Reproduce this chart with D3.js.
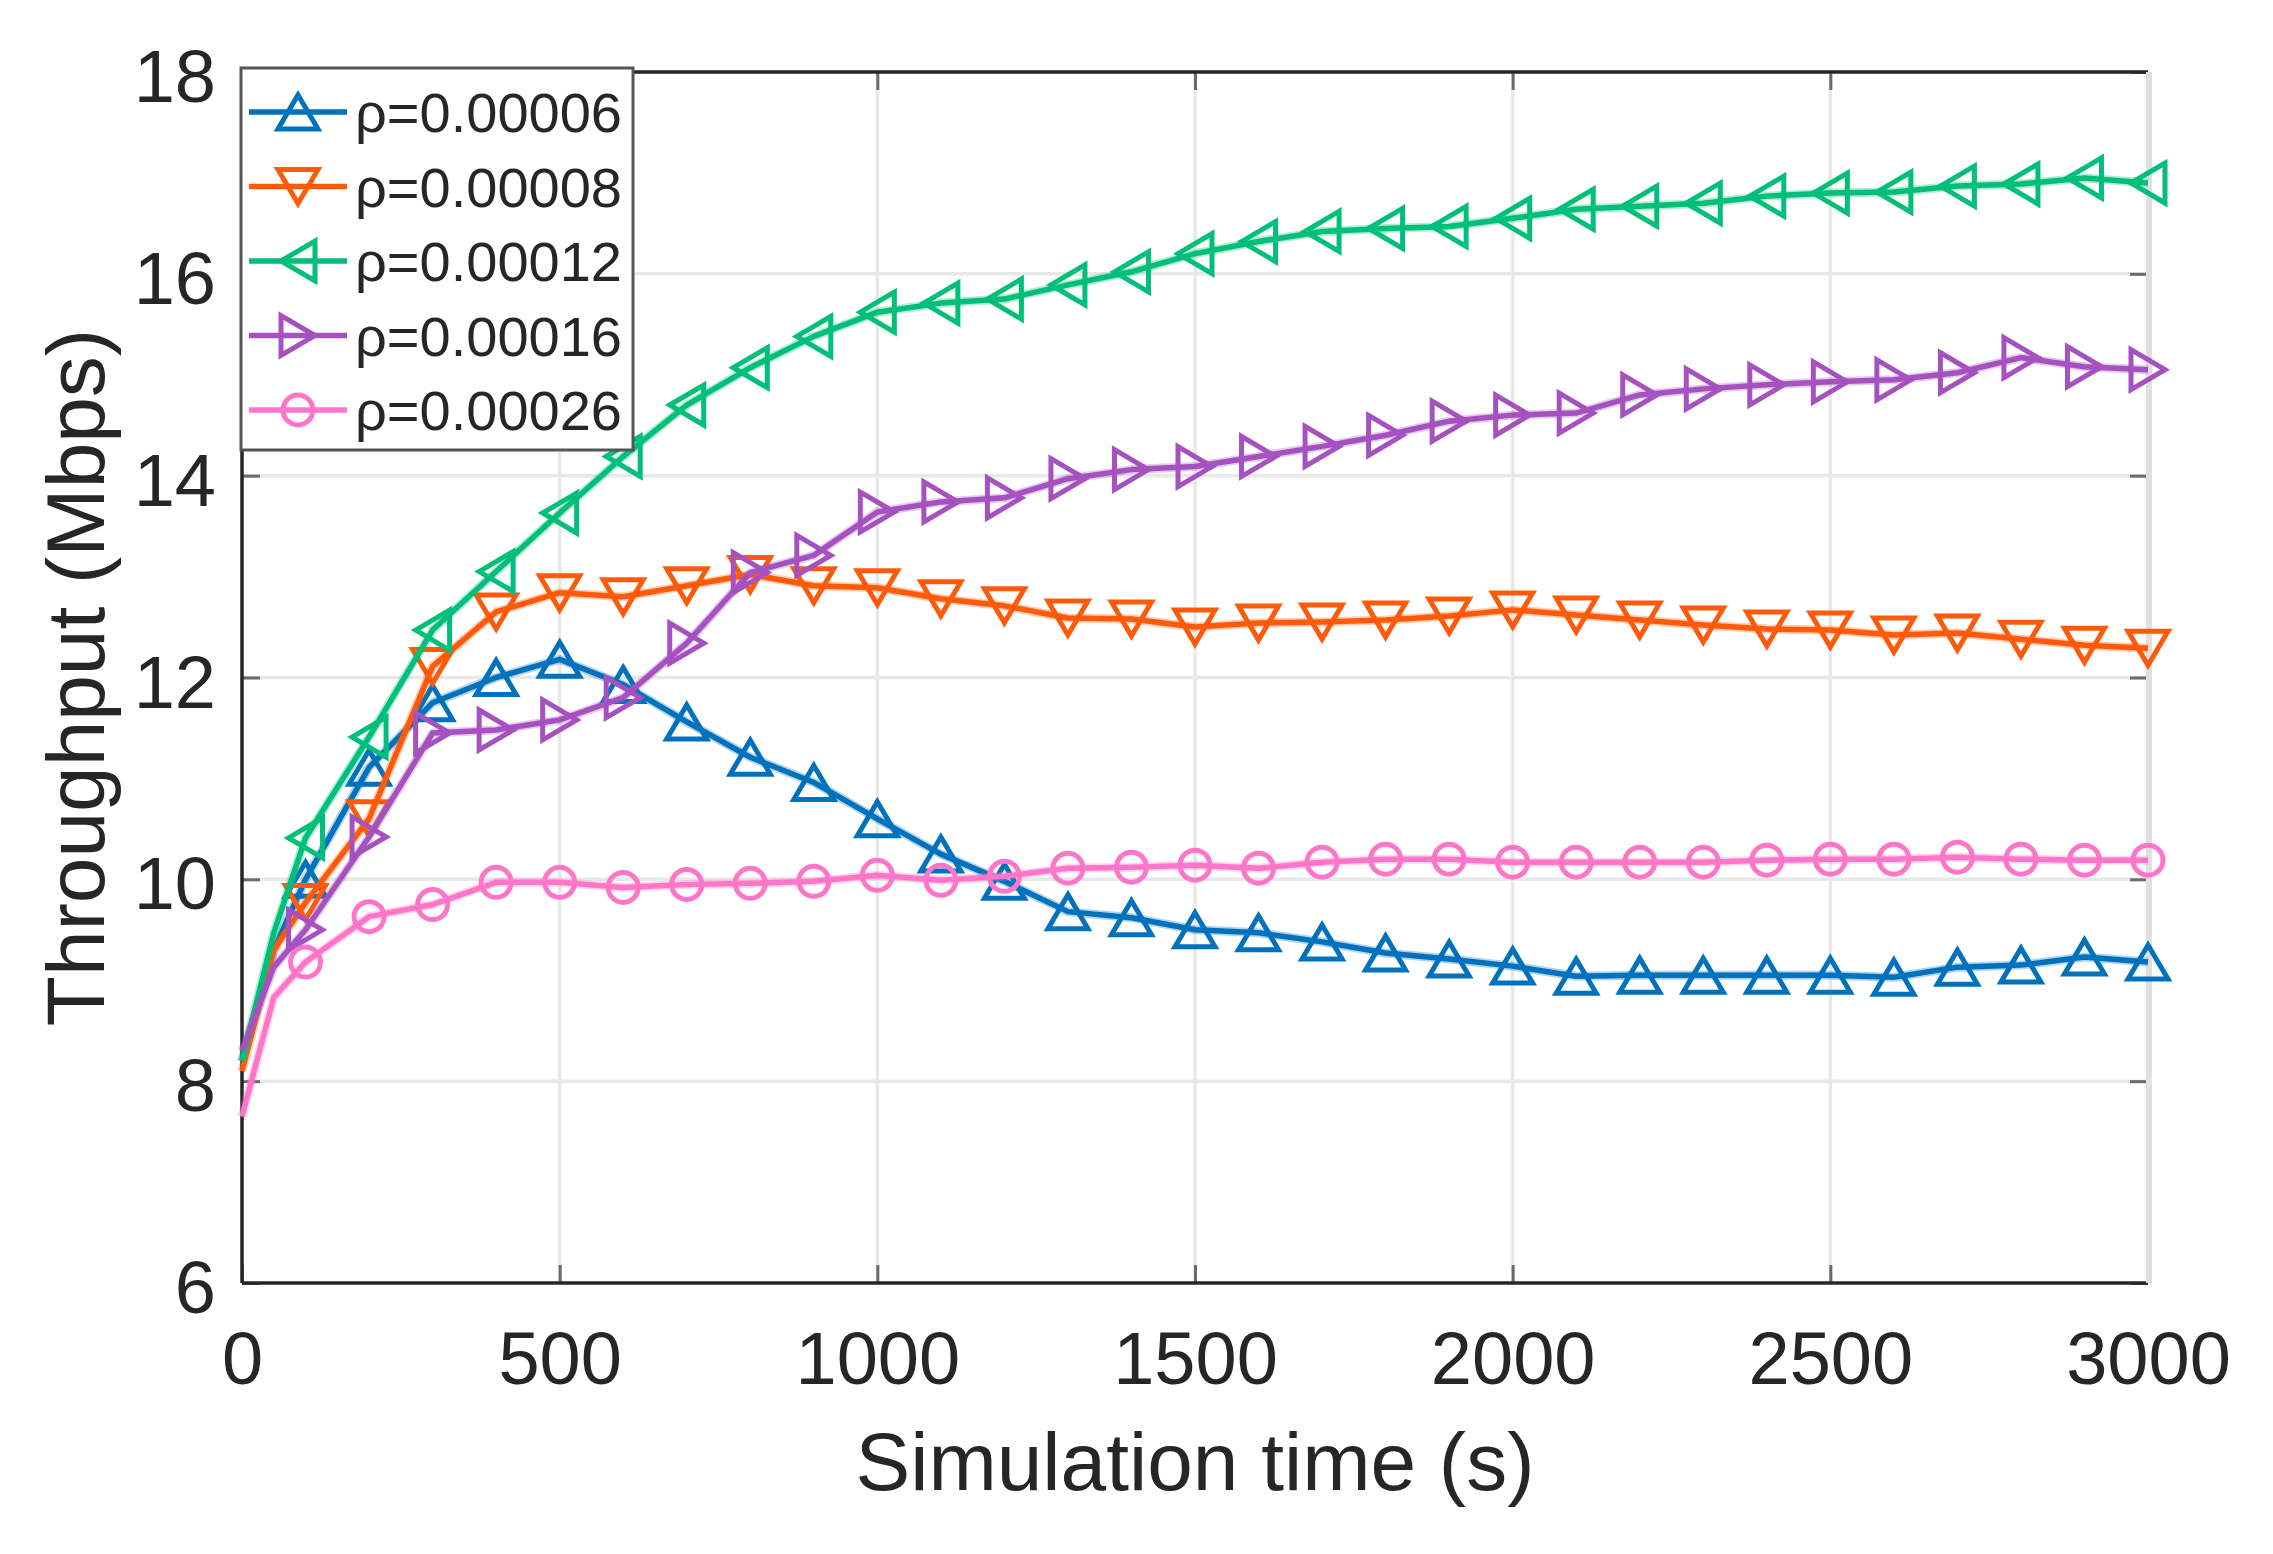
<!DOCTYPE html>
<html lang="en">
<head>
<meta charset="UTF-8">
<title>Throughput vs simulation time</title>
<script src="https://d3js.org/d3.v7.min.js"></script>
<style>
  body { margin: 0; background: #fff; }
  svg text { font-family: "Liberation Sans", Arial, sans-serif; fill: #262626; }
</style>
</head>
<body>
<div id="chart"></div>
<script>
// simulation time (s)
const time = [0, 50, 100, 200, 300, 400, 500, 600, 700, 800, 900, 1000, 1100, 1200, 1300, 1400,
  1500, 1600, 1700, 1800, 1900, 2000, 2100, 2200, 2300, 2400, 2500, 2600, 2700, 2800, 2900, 3000];

// throughput (Mbps) per rho
const rho00006 = [8.2, 9.3, 10.0, 11.11, 11.75, 12.0, 12.18, 11.93, 11.56, 11.21, 10.96, 10.6, 10.25, 9.98, 9.68, 9.62,
  9.5, 9.47, 9.38, 9.27, 9.21, 9.14, 9.04, 9.05, 9.05, 9.05, 9.05, 9.03, 9.13, 9.15, 9.23, 9.18];
const rho00008 = [8.1, 9.3, 9.77, 10.6, 12.11, 12.65, 12.84, 12.8, 12.91, 13.02, 12.91, 12.89, 12.78, 12.71, 12.59, 12.58,
  12.5, 12.54, 12.55, 12.57, 12.61, 12.67, 12.62, 12.57, 12.52, 12.48, 12.47, 12.42, 12.44, 12.38, 12.32, 12.29];
const rho00012 = [8.2, 9.47, 10.41, 11.41, 12.47, 13.05, 13.63, 14.19, 14.7, 15.07, 15.38, 15.62, 15.71, 15.75, 15.89, 16.02,
  16.2, 16.32, 16.42, 16.45, 16.47, 16.55, 16.64, 16.67, 16.7, 16.77, 16.8, 16.81, 16.87, 16.89, 16.95, 16.9];
const rho00016 = [8.3, 9.13, 9.5, 10.42, 11.45, 11.48, 11.58, 11.8, 12.34, 13.04, 13.21, 13.64, 13.74, 13.78, 13.97, 14.06,
  14.09, 14.19, 14.29, 14.4, 14.54, 14.6, 14.62, 14.8, 14.86, 14.9, 14.93, 14.95, 15.02, 15.17, 15.08, 15.05];
const rho00026 = [7.65, 8.83, 9.18, 9.63, 9.75, 9.97, 9.97, 9.92, 9.95, 9.96, 9.98, 10.04, 9.99, 10.03, 10.11, 10.12,
  10.14, 10.11, 10.17, 10.2, 10.2, 10.17, 10.17, 10.17, 10.17, 10.19, 10.2, 10.2, 10.22, 10.2, 10.19, 10.19];

const seriesNames = ["ρ=0.00006", "ρ=0.00008", "ρ=0.00012", "ρ=0.00016", "ρ=0.00026"];
const seriesValues = [rho00006, rho00008, rho00012, rho00016, rho00026];
const seriesColors = ["#0072BD", "#FF5A0A", "#00BF7A", "#A552C0", "#FF76C9"];
const seriesMarkers = ["up", "down", "left", "right", "circle"];

const xTicks = [0, 500, 1000, 1500, 2000, 2500, 3000];
const yTicks = [6, 8, 10, 12, 14, 16, 18];

const width = 2273, height = 1554;
const m = { left: 242, right: 2148, top: 72, bottom: 1283 };

const svg = d3.select("#chart").append("svg")
  .attr("width", width)
  .attr("height", height);

svg.append("rect").attr("width", width).attr("height", height).attr("fill", "#fff");

const x = d3.scaleLinear().domain([0, 3000]).range([m.left, m.right]);
const y = d3.scaleLinear().domain([6, 18]).range([m.bottom, m.top]);

// grid
svg.append("g").selectAll("line").data(xTicks.slice(1)).join("line")
  .attr("x1", d => x(d)).attr("x2", d => x(d))
  .attr("y1", m.top).attr("y2", m.bottom)
  .attr("stroke", "#e8e8e8").attr("stroke-width", 3.5);
svg.append("g").selectAll("line").data(yTicks.slice(1, -1)).join("line")
  .attr("x1", m.left).attr("x2", m.right)
  .attr("y1", d => y(d)).attr("y2", d => y(d))
  .attr("stroke", "#e8e8e8").attr("stroke-width", 3.5);

// axes with inward ticks
const xAxis = svg.append("g").attr("transform", `translate(0,${m.bottom})`)
  .call(d3.axisBottom(x).tickValues(xTicks).tickSize(-18).tickPadding(0).tickFormat(d3.format("d")));
const yAxis = svg.append("g").attr("transform", `translate(${m.left},0)`)
  .call(d3.axisLeft(y).tickValues(yTicks).tickSize(-18).tickPadding(26).tickFormat(d3.format("d")));
svg.append("g").attr("transform", `translate(${m.right},0)`)
  .call(d3.axisRight(y).tickValues(yTicks).tickSize(-18).tickFormat(""));
svg.append("g").attr("transform", `translate(0,${m.top})`)
  .call(d3.axisTop(x).tickValues(xTicks).tickSize(-18).tickFormat(""));

svg.selectAll(".domain").remove();
svg.selectAll(".tick line").attr("stroke", "#6a6a6a").attr("stroke-width", 3);

xAxis.selectAll("text")
  .attr("y", 101).attr("dy", null)
  .attr("font-size", 74).attr("fill", "#262626");
yAxis.selectAll("text")
  .attr("dy", "0.4em")
  .attr("font-size", 74).attr("fill", "#262626");

// frame: left, bottom, top dark; right light
svg.append("line").attr("x1", m.left).attr("x2", m.left).attr("y1", m.top).attr("y2", m.bottom)
  .attr("stroke", "#262626").attr("stroke-width", 3.5);
svg.append("line").attr("x1", m.left).attr("x2", m.right).attr("y1", m.bottom).attr("y2", m.bottom)
  .attr("stroke", "#262626").attr("stroke-width", 3.5);
svg.append("line").attr("x1", m.left).attr("x2", m.right).attr("y1", m.top).attr("y2", m.top)
  .attr("stroke", "#262626").attr("stroke-width", 3.5);
svg.append("line").attr("x1", m.right + 1).attr("x2", m.right + 1).attr("y1", m.top).attr("y2", m.bottom)
  .attr("stroke", "#e0e0e0").attr("stroke-width", 6);

// marker shapes
function markerPath(type) {
  const w = 20, h = 17;
  if (type === "up") return `M0,${-h}L${w},${h}L${-w},${h}Z`;
  if (type === "down") return `M0,${h}L${w},${-h}L${-w},${-h}Z`;
  if (type === "left") return `M${-h},0L${h},${-w}L${h},${w}Z`;
  if (type === "right") return `M${h},0L${-h},${-w}L${-h},${w}Z`;
  return d3.arc()({ innerRadius: 0, outerRadius: 15, startAngle: 0, endAngle: 2 * Math.PI });
}

const line = d3.line().x((d, i) => x(time[i])).y(d => y(d));

const plot = svg.append("g");
seriesValues.forEach((vals, k) => {
  const g = plot.append("g");
  const pts = vals.map((v, i) => ({ t: time[i], v })).filter(d => d.t >= 100);
  // soft halo like the resampled original
  g.append("path").datum(vals)
    .attr("d", line)
    .attr("fill", "none")
    .attr("stroke", seriesColors[k])
    .attr("stroke-opacity", 0.3)
    .attr("stroke-width", 9)
    .attr("stroke-linejoin", "round");
  g.append("path").datum(vals)
    .attr("d", line)
    .attr("fill", "none")
    .attr("stroke", seriesColors[k])
    .attr("stroke-width", 5.5)
    .attr("stroke-linejoin", "round");
  g.selectAll("path.mk").data(pts)
    .join("path").attr("class", "mk")
    .attr("transform", d => `translate(${x(d.t)},${y(d.v)})`)
    .attr("d", markerPath(seriesMarkers[k]))
    .attr("fill", "none")
    .attr("stroke", seriesColors[k])
    .attr("stroke-width", 5);
});

// legend
const legend = svg.append("g");
legend.append("rect")
  .attr("x", 241).attr("y", 68).attr("width", 392).attr("height", 382)
  .attr("fill", "#fff").attr("stroke", "#555").attr("stroke-width", 3);
seriesNames.forEach((name, k) => {
  const cy = 112 + k * 74.5;
  legend.append("line").attr("x1", 249).attr("x2", 347).attr("y1", cy).attr("y2", cy)
    .attr("stroke", seriesColors[k]).attr("stroke-width", 5.5);
  legend.append("path").attr("transform", `translate(298,${cy})`)
    .attr("d", markerPath(seriesMarkers[k]))
    .attr("fill", "none").attr("stroke", seriesColors[k]).attr("stroke-width", 5);
  legend.append("text").attr("x", 355).attr("y", cy + 20)
    .attr("font-size", 56).text(name);
});

// axis titles
svg.append("text")
  .attr("x", (m.left + m.right) / 2).attr("y", 1490)
  .attr("text-anchor", "middle").attr("font-size", 82)
  .text("Simulation time (s)");
svg.append("text")
  .attr("transform", `translate(104,${(m.top + m.bottom) / 2}) rotate(-90)`)
  .attr("text-anchor", "middle").attr("font-size", 82)
  .text("Throughput (Mbps)");
</script>
</body>
</html>
